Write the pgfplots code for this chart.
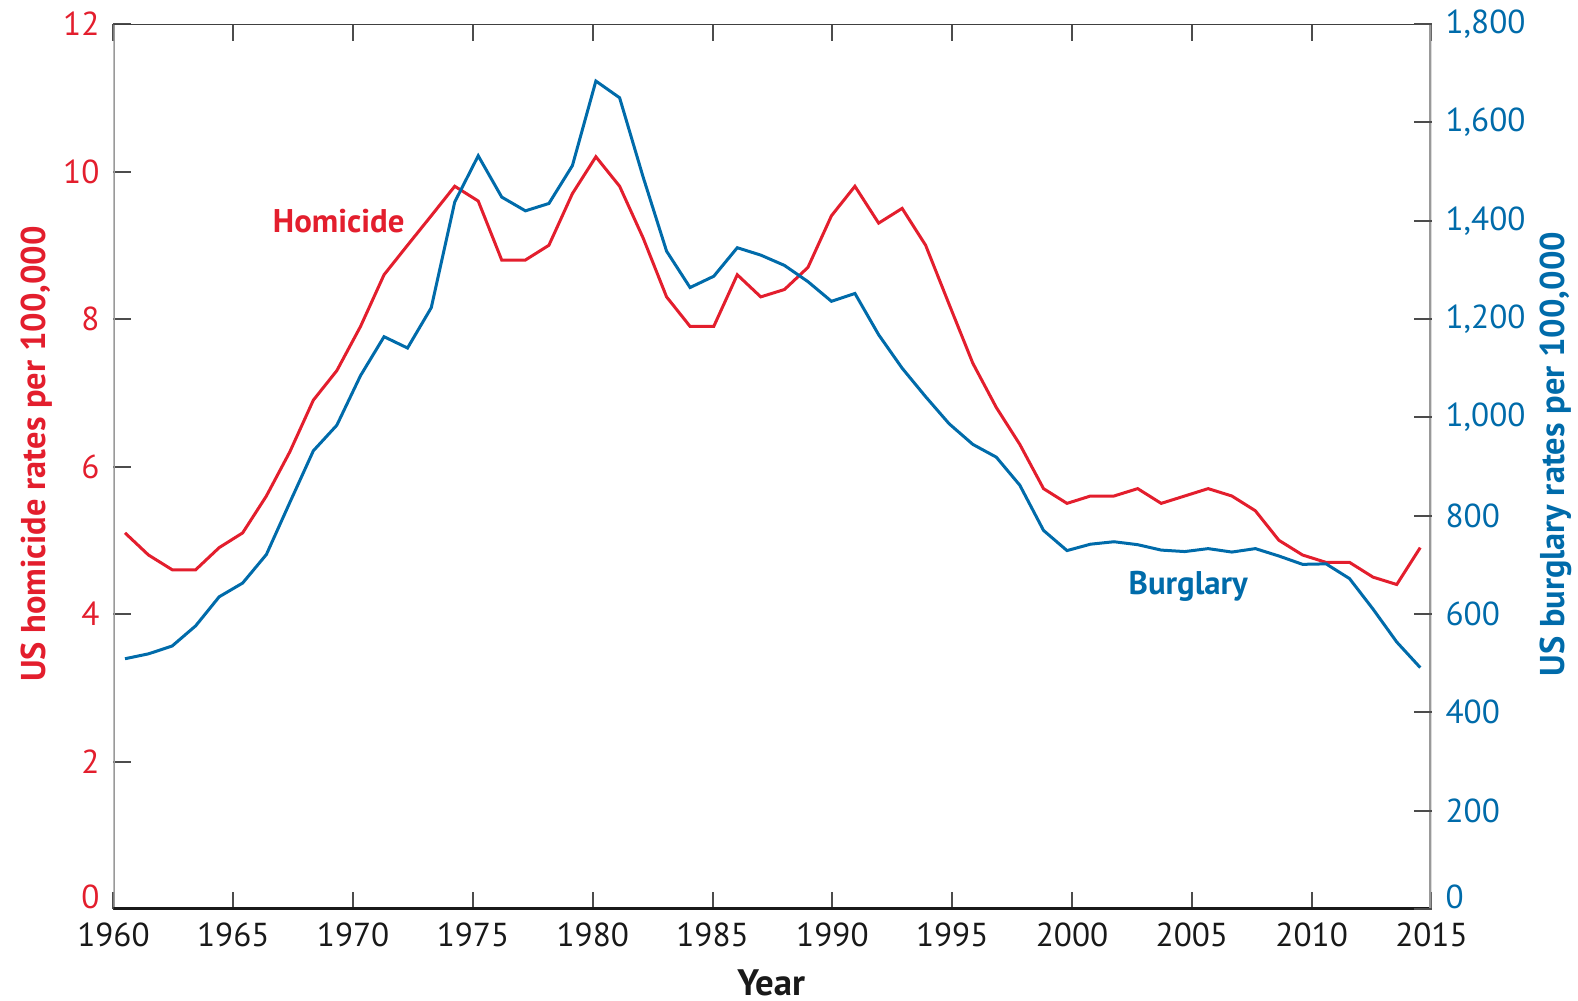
\documentclass[border=0pt]{standalone}
\usepackage{pgfplots}
\pgfplotsset{compat=1.18}
\usepackage{pgfplotstable}
\usepackage{fontspec}
\setmainfont{PT Sans}

\definecolor{homred}{RGB}{227,30,45}
\definecolor{burgblue}{RGB}{0,107,170}

% homicide rate per 100,000 (points sit slightly inside each year slot)
\pgfplotstableread{
x rate
1960.48 5.1
1961.46 4.8
1962.45 4.6
1963.43 4.6
1964.41 4.9
1965.39 5.1
1966.38 5.6
1967.36 6.2
1968.34 6.9
1969.32 7.3
1970.31 7.9
1971.29 8.6
1972.27 9.0
1973.26 9.4
1974.24 9.8
1975.22 9.6
1976.20 8.8
1977.19 8.8
1978.17 9.0
1979.15 9.7
1980.13 10.2
1981.12 9.8
1982.10 9.1
1983.08 8.3
1984.06 7.9
1985.05 7.9
1986.03 8.6
1987.01 8.3
1988.00 8.4
1988.98 8.7
1989.96 9.4
1990.94 9.8
1991.93 9.3
1992.91 9.5
1993.89 9.0
1994.87 8.2
1995.86 7.4
1996.84 6.8
1997.82 6.3
1998.81 5.7
1999.79 5.5
2000.77 5.6
2001.75 5.6
2002.74 5.7
2003.72 5.5
2004.70 5.6
2005.68 5.7
2006.67 5.6
2007.65 5.4
2008.63 5.0
2009.62 4.8
2010.60 4.7
2011.58 4.7
2012.56 4.5
2013.55 4.4
2014.53 4.9
}\homicide

% burglary rate per 100,000
\pgfplotstableread{
x rate
1960.48 509
1961.46 519
1962.45 535
1963.43 576
1964.41 635
1965.39 663
1966.38 721
1967.36 827
1968.34 932
1969.32 984
1970.31 1085
1971.29 1164
1972.27 1141
1973.26 1223
1974.24 1438
1975.22 1532
1976.20 1448
1977.19 1420
1978.17 1435
1979.15 1512
1980.13 1684
1981.12 1650
1982.10 1489
1983.08 1338
1984.06 1264
1985.05 1287
1986.03 1345
1987.01 1330
1988.00 1309
1988.98 1276
1989.96 1236
1990.94 1252
1991.93 1168
1992.91 1100
1993.89 1042
1994.87 987
1995.86 945
1996.84 919
1997.82 862
1998.81 770
1999.79 729
2000.77 742
2001.75 747
2002.74 741
2003.72 730
2004.70 727
2005.68 733
2006.67 726
2007.65 733
2008.63 718
2009.62 701
2010.60 702
2011.58 672
2012.56 610
2013.55 543
2014.53 491
}\burglary

\begin{document}
\begin{tikzpicture}
\path[use as bounding box] (-28.375pt,-22.75pt) rectangle (366.125pt,227.25pt);
\pgfplotsset{
  every axis/.append style={
    scale only axis, width=329.5pt, height=221.25pt,
    xmin=1960, xmax=2015,
    axis line style={draw=none},
    tick align=inside, major tick length=4.3pt,
    tick style={color=black!70, line width=0.5pt},
    tick label style={font=\fontsize{8.3}{10}\selectfont},
    /pgf/number format/assume math mode=true,
  }
}
\begin{axis}[
  ymin=0, ymax=12, ytick={2,4,...,12},
  extra y ticks={0},
  extra y tick style={yticklabel style={yshift=3pt}},
  xtick={1960,1965,...,2015},
  xtick pos=both, ytick pos=left,
  x tick label style={/pgf/number format/1000 sep={}, text=black!90},
  y tick label style={text=homred},
  xlabel={Year},
  xlabel style={at={(axis description cs:0.499,-0.0836)}, anchor=center,
    font=\fontsize{9.2}{11}\selectfont\bfseries, text=black!90},
  ylabel={US homicide rates per 100,000},
  ylabel style={at={(axis description cs:-0.058,0.514)}, anchor=center,
    font=\fontsize{8.6}{10}\selectfont\bfseries, text=homred},
]
\draw[black!40, line width=1pt] (rel axis cs:0,0) -- (rel axis cs:0,1);
\draw[black!75, line width=0.65pt] (rel axis cs:0,1) -- (rel axis cs:1,1);
\draw[black!90, line width=0.8pt] (rel axis cs:0,0) -- (rel axis cs:1,0);
\draw[black!40, line width=1pt] (rel axis cs:1,0) -- (rel axis cs:1,1);
\addplot[homred, line width=0.75pt] table[x=x, y=rate] {\homicide};
\node[text=homred, font=\fontsize{8.2}{10}\selectfont\bfseries]
  at (axis cs:1969.4,9.33) {Homicide};
\node[text=burgblue, font=\fontsize{8.2}{10}\selectfont\bfseries]
  at (axis cs:2004.85,4.37) {Burglary};
\end{axis}

\begin{axis}[
  ymin=0, ymax=1800, ytick={200,400,...,1800},
  extra y ticks={0},
  extra y tick style={yticklabel style={yshift=3pt}},
  hide x axis,
  ytick pos=right, yticklabel pos=right,
  y tick label style={text=burgblue, /pgf/number format/1000 sep={,}},
  ylabel={US burglary rates per 100,000},
  ylabel style={at={(axis description cs:1.094,0.514)}, anchor=center,
    font=\fontsize{8.6}{10}\selectfont\bfseries, text=burgblue},
]
\addplot[burgblue, line width=0.75pt] table[x=x, y=rate] {\burglary};
\end{axis}
\end{tikzpicture}
\end{document}
